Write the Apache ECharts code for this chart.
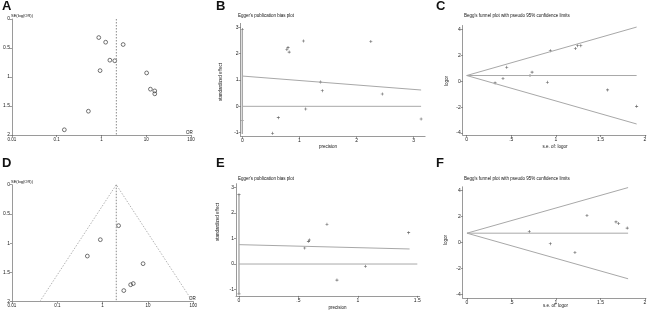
<!DOCTYPE html>
<html>
<head>
<meta charset="utf-8">
<script src="https://cdn.jsdelivr.net/npm/echarts@6/dist/echarts.min.js"></script>
<style>
  html, body { margin: 0; padding: 0; background: #fff; }
  #chart { width: 650px; height: 311px; }
</style>
</head>
<body>
<div id="chart"></div>
<script>
// ---- A: funnel plot (OR vs SE(log(OR))) ----
const aOR = [0.87, 1.24, 3.05, 1.54, 1.98, 0.93, 10.2, 12.4, 15.5, 15.5, 0.51, 0.148];
const aSE = [0.32, 0.40, 0.44, 0.71, 0.72, 0.89, 0.93, 1.21, 1.24, 1.29, 1.59, 1.91];
const aPooled = 2.15;

// ---- B: Egger's plot ----
const bPrec = [0, 0, 0.53, 0.63, 0.78, 0.80, 0.82, 1.07, 1.11, 1.37, 1.40, 2.25, 2.45, 3.13];
const bStd = [2.92, -0.54, -1.02, -0.43, 2.16, 2.23, 2.06, 2.48, -0.10, 0.92, 0.59, 2.46, 0.47, -0.48];
const bCI = [-1.05, 2.9];
const bReg = [1.15, 0.62];   // value at precision 0 and at 3.13
const bEnd = 3.13;

// ---- C: Begg's funnel ----
const cSE = [0.318, 0.407, 0.449, 0.71, 0.733, 0.905, 0.938, 1.219, 1.245, 1.28, 1.58, 1.906];
const cLogOR = [-0.13, 0.21, 1.08, 0.44, 0.70, -0.08, 2.35, 2.53, 2.74, 2.74, -0.67, -1.94];
const cCenter = 0.44;
const cLimits = [4.18, -3.3]; // upper and lower limit at cEnd
const cEnd = 1.906;

// ---- D: funnel plot ----
const dOR = [2.25, 0.89, 0.46, 7.8, 4.74, 4.15, 2.93];
const dSE = [0.70, 0.94, 1.22, 1.35, 1.69, 1.71, 1.81];
const dPooled = 2.0;
const dLimits = [0.041, 97]; // funnel edges at SE = 2

// ---- E: Egger's plot ----
const ePrec = [0, 0, 0.553, 0.584, 0.592, 0.74, 0.824, 1.064, 1.427];
const eStd = [2.72, -1.17, 0.63, 0.89, 0.94, 1.56, -0.63, -0.09, 1.23];
const eCI = [-1.17, 2.72];
const eReg = [0.76, 0.59];
const eRegEnd = 1.435;
const eZeroEnd = 1.5;

// ---- F: Begg's funnel ----
const fSE = [0.70, 0.936, 1.213, 1.348, 1.674, 1.704, 1.80];
const fLogOR = [0.85, -0.10, -0.77, 2.08, 1.59, 1.47, 1.11];
const fCenter = 0.72;
const fLimits = [4.24, -2.8];
const fEnd = 1.81;

const zip = (xs, ys) => xs.map((x, i) => [x, ys[i]]);
const FONT = 'Liberation Sans, Arial, sans-serif';
const AXC = '#9a9a9a';
const LINEC = '#a8a8a8';
const DOT = '#3a3a3a';
const plus = 'path://M4,0h2v4h4v2h-4v4h-2v-4h-4v-2h4z';
const ring = { color: 'rgba(0,0,0,0)', borderColor: '#3c3c3c', borderWidth: 0.9 };

const stataFmt = v => {
  let s = String(+(+v).toPrecision(3));
  return s.replace(/^0\./, '.').replace(/^-0\./, '-.');
};

function valAxis(gi, min, max, ticks, fmt, extra) {
  return Object.assign({
    type: 'value', gridIndex: gi, min, max,
    axisLine: { show: true, onZero: false, lineStyle: { color: AXC, width: 1 } },
    axisTick: { show: true, length: 2, lineStyle: { color: '#555', width: 0.6 }, customValues: ticks },
    axisLabel: { fontSize: 5, color: '#222', margin: 2, fontFamily: FONT, customValues: ticks, formatter: fmt || stataFmt },
    splitLine: { show: false }
  }, extra || {});
}

function logAxis(gi) {
  return {
    type: 'log', logBase: 10, gridIndex: gi, min: 0.01, max: 100,
    axisLine: { show: true, onZero: false, lineStyle: { color: AXC, width: 1 } },
    axisTick: { show: true, length: 2, lineStyle: { color: '#555', width: 0.6 } },
    axisLabel: { fontSize: 4.5, color: '#222', margin: 2, fontFamily: FONT,
      formatter: v => String(parseFloat((+v).toPrecision(2))) },
    minorTick: { show: false },
    splitLine: { show: false }
  };
}

function seAxis(gi) {
  return valAxis(gi, 0, 2, [0, 0.5, 1, 1.5, 2], v => String(+(+v).toFixed(1)), { inverse: true, interval: 0.5 });
}

function lineSeries(xi, data, opts) {
  return Object.assign({
    type: 'line', xAxisIndex: xi, yAxisIndex: xi, data, symbol: 'none', silent: true,
    lineStyle: { color: LINEC, width: 1 }
  }, opts || {});
}

function text(x, y, t, size, extra) {
  return {
    type: 'text', x, y, silent: true,
    style: Object.assign({ text: t, fontSize: size, fontFamily: FONT, fill: '#111' }, extra || {})
  };
}
function rtext(x, y, t, size) {
  return { type: 'text', x, y, rotation: Math.PI / 2, silent: true,
    style: { text: t, fontSize: size, fontFamily: FONT, fill: '#111', align: 'center', verticalAlign: 'middle' } };
}

const chart = echarts.init(document.getElementById('chart'), null, { renderer: 'canvas' });

const option = {
  animation: false,
  backgroundColor: '#fff',
  grid: [
    { left: 8, top: 19, width: 183, height: 116 },          // A
    { left: 240.6, top: 23.4, width: 184.5, height: 113.2 }, // B
    { left: 462.7, top: 25.5, width: 183.2, height: 109.5 }, // C
    { left: 8, top: 184.7, width: 185.3, height: 117 },      // D
    { left: 236, top: 183.7, width: 183.7, height: 112.2 },  // E
    { left: 462.7, top: 186.8, width: 183.2, height: 111.4 } // F
  ],
  xAxis: [
    logAxis(0),
    valAxis(1, -0.03, 3.2, [0, 1, 2, 3]),
    valAxis(2, -0.045, 2.01, [0, 0.5, 1, 1.5, 2]),
    logAxis(3),
    valAxis(4, -0.025, 1.52, [0, 0.5, 1, 1.5]),
    valAxis(5, -0.048, 2.01, [0, 0.5, 1, 1.5, 2])
  ],
  yAxis: [
    seAxis(0),
    valAxis(1, -1.15, 3.15, [-1, 0, 1, 2, 3]),
    valAxis(2, -4.15, 4.3, [-4, -2, 0, 2, 4]),
    seAxis(3),
    valAxis(4, -1.25, 3.15, [-1, 0, 1, 2, 3]),
    valAxis(5, -4.3, 4.3, [-4, -2, 0, 2, 4])
  ],
  series: [
    // A
    lineSeries(0, [[aPooled, 0], [aPooled, 2]], { lineStyle: { color: '#8c8c8c', width: 1, type: [1.5, 1.5] } }),
    { type: 'scatter', xAxisIndex: 0, yAxisIndex: 0, data: zip(aOR, aSE), symbol: 'circle', symbolSize: 3.8,
      itemStyle: ring, clip: false },
    // B
    lineSeries(1, [[0, bCI[0]], [0, bCI[1]]], { lineStyle: { color: LINEC, width: 1.4 } }),
    lineSeries(1, [[0, bReg[0]], [bEnd, bReg[1]]]),
    lineSeries(1, [[0, 0], [bEnd, 0]]),
    { type: 'scatter', xAxisIndex: 1, yAxisIndex: 1, data: zip(bPrec, bStd), symbol: plus, symbolSize: 3,
      itemStyle: { color: DOT }, clip: false },
    // C
    lineSeries(2, [[0, cCenter], [cEnd, cLimits[0]]]),
    lineSeries(2, [[0, cCenter], [cEnd, cLimits[1]]]),
    lineSeries(2, [[0, cCenter], [cEnd, cCenter]]),
    { type: 'scatter', xAxisIndex: 2, yAxisIndex: 2, data: zip(cSE, cLogOR), symbol: plus, symbolSize: 3,
      itemStyle: { color: DOT }, clip: false },
    // D
    lineSeries(3, [[dPooled, 0], [dPooled, 2]], { lineStyle: { color: '#8c8c8c', width: 1, type: [1.5, 1.5] } }),
    lineSeries(3, [[dLimits[0], 2], [dPooled, 0], [dLimits[1], 2]], { lineStyle: { color: '#a0a0a0', width: 0.8, type: [1.5, 1.5] } }),
    { type: 'scatter', xAxisIndex: 3, yAxisIndex: 3, data: zip(dOR, dSE), symbol: 'circle', symbolSize: 3.8,
      itemStyle: ring, clip: false },
    // E
    lineSeries(4, [[0, eCI[0]], [0, eCI[1]]], { lineStyle: { color: LINEC, width: 1.4 } }),
    lineSeries(4, [[0, eReg[0]], [eRegEnd, eReg[1]]]),
    lineSeries(4, [[0, 0], [eZeroEnd, 0]]),
    { type: 'scatter', xAxisIndex: 4, yAxisIndex: 4, data: zip(ePrec, eStd), symbol: plus, symbolSize: 3,
      itemStyle: { color: DOT }, clip: false },
    // F
    lineSeries(5, [[0, fCenter], [fEnd, fLimits[0]]]),
    lineSeries(5, [[0, fCenter], [fEnd, fLimits[1]]]),
    lineSeries(5, [[0, fCenter], [fEnd, fCenter]]),
    { type: 'scatter', xAxisIndex: 5, yAxisIndex: 5, data: zip(fSE, fLogOR), symbol: plus, symbolSize: 3,
      itemStyle: { color: DOT }, clip: false }
  ],
  graphic: [
    // panel letters
    text(2, 0, 'A', 13, { fontWeight: 'bold' }),
    text(216, 0, 'B', 13, { fontWeight: 'bold' }),
    text(436, 0, 'C', 13, { fontWeight: 'bold' }),
    text(2, 157, 'D', 13, { fontWeight: 'bold' }),
    text(216, 157, 'E', 13, { fontWeight: 'bold' }),
    text(436, 157, 'F', 13, { fontWeight: 'bold' }),
    // A / D axis titles
    text(11, 13.5, 'SE(log(OR))', 4),
    text(186, 130, 'OR', 4.5),
    text(11, 180, 'SE(log(OR))', 4),
    text(189, 296.5, 'OR', 4.5),
    // B
    text(238, 13.5, "Egger's publication bias plot", 4.5),
    rtext(221, 82, 'standardized effect', 4.5),
    text(328, 146.5, 'precision', 4.5, { align: 'center', verticalAlign: 'middle' }),
    // C
    text(464, 13.5, "Begg's funnel plot with pseudo 95% confidence limits", 4.5),
    rtext(446.5, 81, 'logor', 4.5),
    text(555, 146.5, 's.e. of: logor', 4.5, { align: 'center', verticalAlign: 'middle' }),
    // E
    text(238, 176, "Egger's publication bias plot", 4.5),
    rtext(218, 222, 'standardized effect', 4.5),
    text(337.5, 308, 'precision', 4.5, { align: 'center', verticalAlign: 'middle' }),
    // F
    text(464, 176.5, "Begg's funnel plot with pseudo 95% confidence limits", 4.5),
    rtext(446, 240, 'logor', 4.5),
    text(555.5, 305.5, 's.e. of: logor', 4.5, { align: 'center', verticalAlign: 'middle' })
  ]
};

chart.setOption(option);
</script>
</body>
</html>
